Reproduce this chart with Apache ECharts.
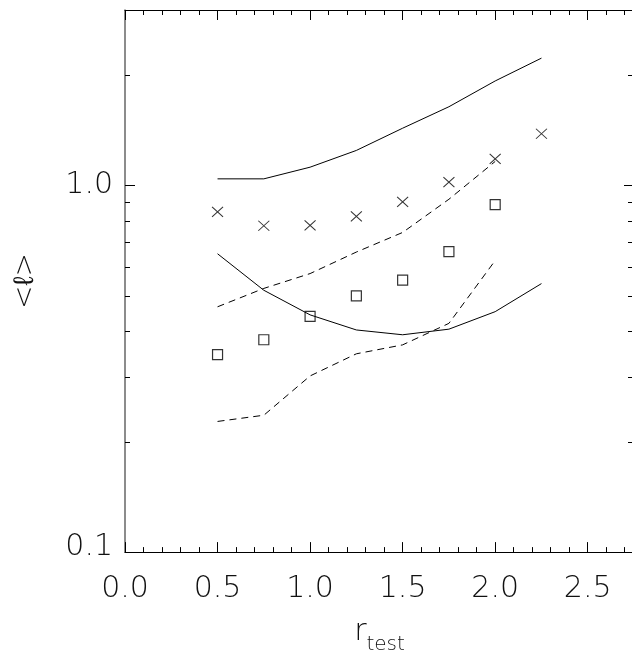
<!DOCTYPE html>
<html>
<head>
<meta charset="utf-8">
<script src="https://cdn.jsdelivr.net/npm/echarts@6/dist/echarts.min.js"></script>
<style>
html, body { margin: 0; padding: 0; overflow: hidden; background: #fff; }
#chart { width: 640px; height: 660px; }
</style>
</head>
<body>
<div id="chart"></div>
<script>
// ---- data ----
const rTest = [0.5, 0.75, 1.0, 1.25, 1.5, 1.75, 2.0, 2.25];
const rTestShort = [0.5, 0.75, 1.0, 1.25, 1.5, 1.75, 2.0];
const upperSolid = [1.040, 1.040, 1.119, 1.243, 1.429, 1.635, 1.922, 2.218];
const lowerSolid = [0.650, 0.517, 0.443, 0.403, 0.391, 0.405, 0.452, 0.539];
const crosses = [0.845, 0.775, 0.777, 0.822, 0.900, 1.019, 1.179, 1.380];
const squares = [0.345, 0.379, 0.439, 0.499, 0.551, 0.659, 0.885];
const upperDashed = [0.466, 0.523, 0.574, 0.657, 0.743, 0.915, 1.16];
const lowerDashed = [0.227, 0.236, 0.302, 0.347, 0.367, 0.420, 0.623];
const yMinorTicks = [0.2, 0.3, 0.4, 0.5, 0.6, 0.7, 0.8, 0.9, 2];
const xTitle = 'r';
const xTitleSub = 'test';
const yTitle = '<ℓ>';

const pair = (xs, ys) => ys.map((v, i) => [xs[i], v]);

const FONT = "'DejaVu Sans', sans-serif";
const INK = '#000';
const TXT = '#111';

const chart = echarts.init(document.getElementById('chart'), null, { renderer: 'canvas' });

const xAxisBase = {
  type: 'value',
  min: 0,
  max: 2.75,
  interval: 0.5,
  splitLine: { show: false },
  axisLine: { show: true, onZero: false, lineStyle: { color: INK, width: 1 } },
  axisTick: { show: true, inside: true, length: 10, lineStyle: { color: INK, width: 1 } },
  minorTick: { show: true, splitNumber: 5, length: 5, lineStyle: { color: INK, width: 1 } },
  minorSplitLine: { show: false }
};

const yAxisBase = {
  type: 'log',
  logBase: 10,
  min: 0.1,
  max: 3,
  splitLine: { show: false },
  axisLine: { show: true, onZero: false, lineStyle: { color: INK, width: 1 } },
  axisTick: { show: true, inside: true, length: 10, lineStyle: { color: INK, width: 1 } },
  minorTick: { show: false }
};

const option = {
  animation: false,
  backgroundColor: '#fff',
  grid: { left: 125, top: 10, right: 6, bottom: 104, containLabel: false },
  xAxis: [
    Object.assign({}, xAxisBase, {
      position: 'bottom',
      axisLabel: {
        show: true, margin: 22, color: TXT, fontFamily: FONT, fontWeight: 200, fontSize: 30,
        showMaxLabel: false,
        formatter: v => v.toFixed(1)
      },
      name: '{r|' + xTitle + '}{s|' + xTitleSub + '}',
      nameLocation: 'middle',
      nameGap: 57,
      nameTextStyle: {
        color: TXT, fontFamily: FONT, fontWeight: 200,
        rich: {
          r: { fontSize: 30, lineHeight: 30, fontFamily: FONT, fontWeight: 200, color: TXT },
          s: { fontSize: 20, lineHeight: 20, fontFamily: FONT, fontWeight: 200, color: TXT, padding: [26, 0, 0, 0] }
        }
      }
    }),
    Object.assign({}, xAxisBase, {
      position: 'top',
      axisLabel: { show: false }
    })
  ],
  yAxis: [
    Object.assign({}, yAxisBase, {
      position: 'left',
      axisLine: { show: true, onZero: false, lineStyle: { color: '#666', width: 1.5 } },
      axisLabel: {
        show: true, margin: 12, color: TXT, fontFamily: FONT, fontWeight: 200, fontSize: 30,
        showMaxLabel: false,
        formatter: v => (Math.abs(v - 0.1) < 1e-9 ? '{lo|' + v.toFixed(1) + '}' : '{n|' + v.toFixed(1) + '}'),
        rich: {
          n: { fontSize: 30, fontFamily: FONT, fontWeight: 200, color: TXT },
          lo: { fontSize: 30, fontFamily: FONT, fontWeight: 200, color: TXT, padding: [0, 0, 10, 0] }
        }
      },
      name: yTitle,
      nameLocation: 'middle',
      nameRotate: 90,
      nameGap: 85,
      nameTextStyle: { color: TXT, fontFamily: FONT, fontWeight: 200, fontSize: 28 }
    }),
    Object.assign({}, yAxisBase, {
      position: 'right',
      axisLabel: { show: false }
    })
  ],
  series: [
    {
      type: 'custom',
      name: 'yMinor',
      xAxisIndex: 0, yAxisIndex: 0,
      data: yMinorTicks.map(v => [0, v]),
      encode: { x: 0, y: 1 },
      silent: true,
      clip: false,
      renderItem: function (params, api) {
        const y = Math.round(api.coord([0, api.value(1)])[1]) + 0.5;
        const cs = params.coordSys;
        return {
          type: 'group',
          children: [
            { type: 'line', shape: { x1: cs.x, y1: y, x2: cs.x + 5, y2: y }, style: { stroke: INK, lineWidth: 1 } },
            { type: 'line', shape: { x1: cs.x + cs.width - 6, y1: y, x2: cs.x + cs.width, y2: y }, style: { stroke: INK, lineWidth: 1 } }
          ]
        };
      }
    },
    {
      type: 'line', name: 'upper solid', data: pair(rTest, upperSolid),
      showSymbol: false, symbol: 'none', lineStyle: { color: INK, width: 1, type: 'solid' }
    },
    {
      type: 'line', name: 'lower solid', data: pair(rTest, lowerSolid),
      showSymbol: false, symbol: 'none', lineStyle: { color: INK, width: 1, type: 'solid' }
    },
    {
      type: 'line', name: 'upper dashed', data: pair(rTestShort, upperDashed),
      showSymbol: false, symbol: 'none', lineStyle: { color: INK, width: 1, type: [7, 5] }
    },
    {
      type: 'line', name: 'lower dashed', data: pair(rTestShort, lowerDashed),
      showSymbol: false, symbol: 'none', lineStyle: { color: INK, width: 1, type: [7, 5] }
    },
    {
      type: 'scatter', name: 'crosses', data: pair(rTest, crosses),
      symbol: 'path://M0,0L10,10M10,0L0,10', symbolSize: [11, 10],
      itemStyle: { color: 'rgba(0,0,0,0)', borderColor: INK, borderWidth: 1 }
    },
    {
      type: 'scatter', name: 'squares', data: pair(rTestShort, squares),
      symbol: 'rect', symbolSize: 10,
      itemStyle: { color: 'rgba(255,255,255,0)', borderColor: INK, borderWidth: 1.2 }
    }
  ]
};

chart.setOption(option);
</script>
</body>
</html>
